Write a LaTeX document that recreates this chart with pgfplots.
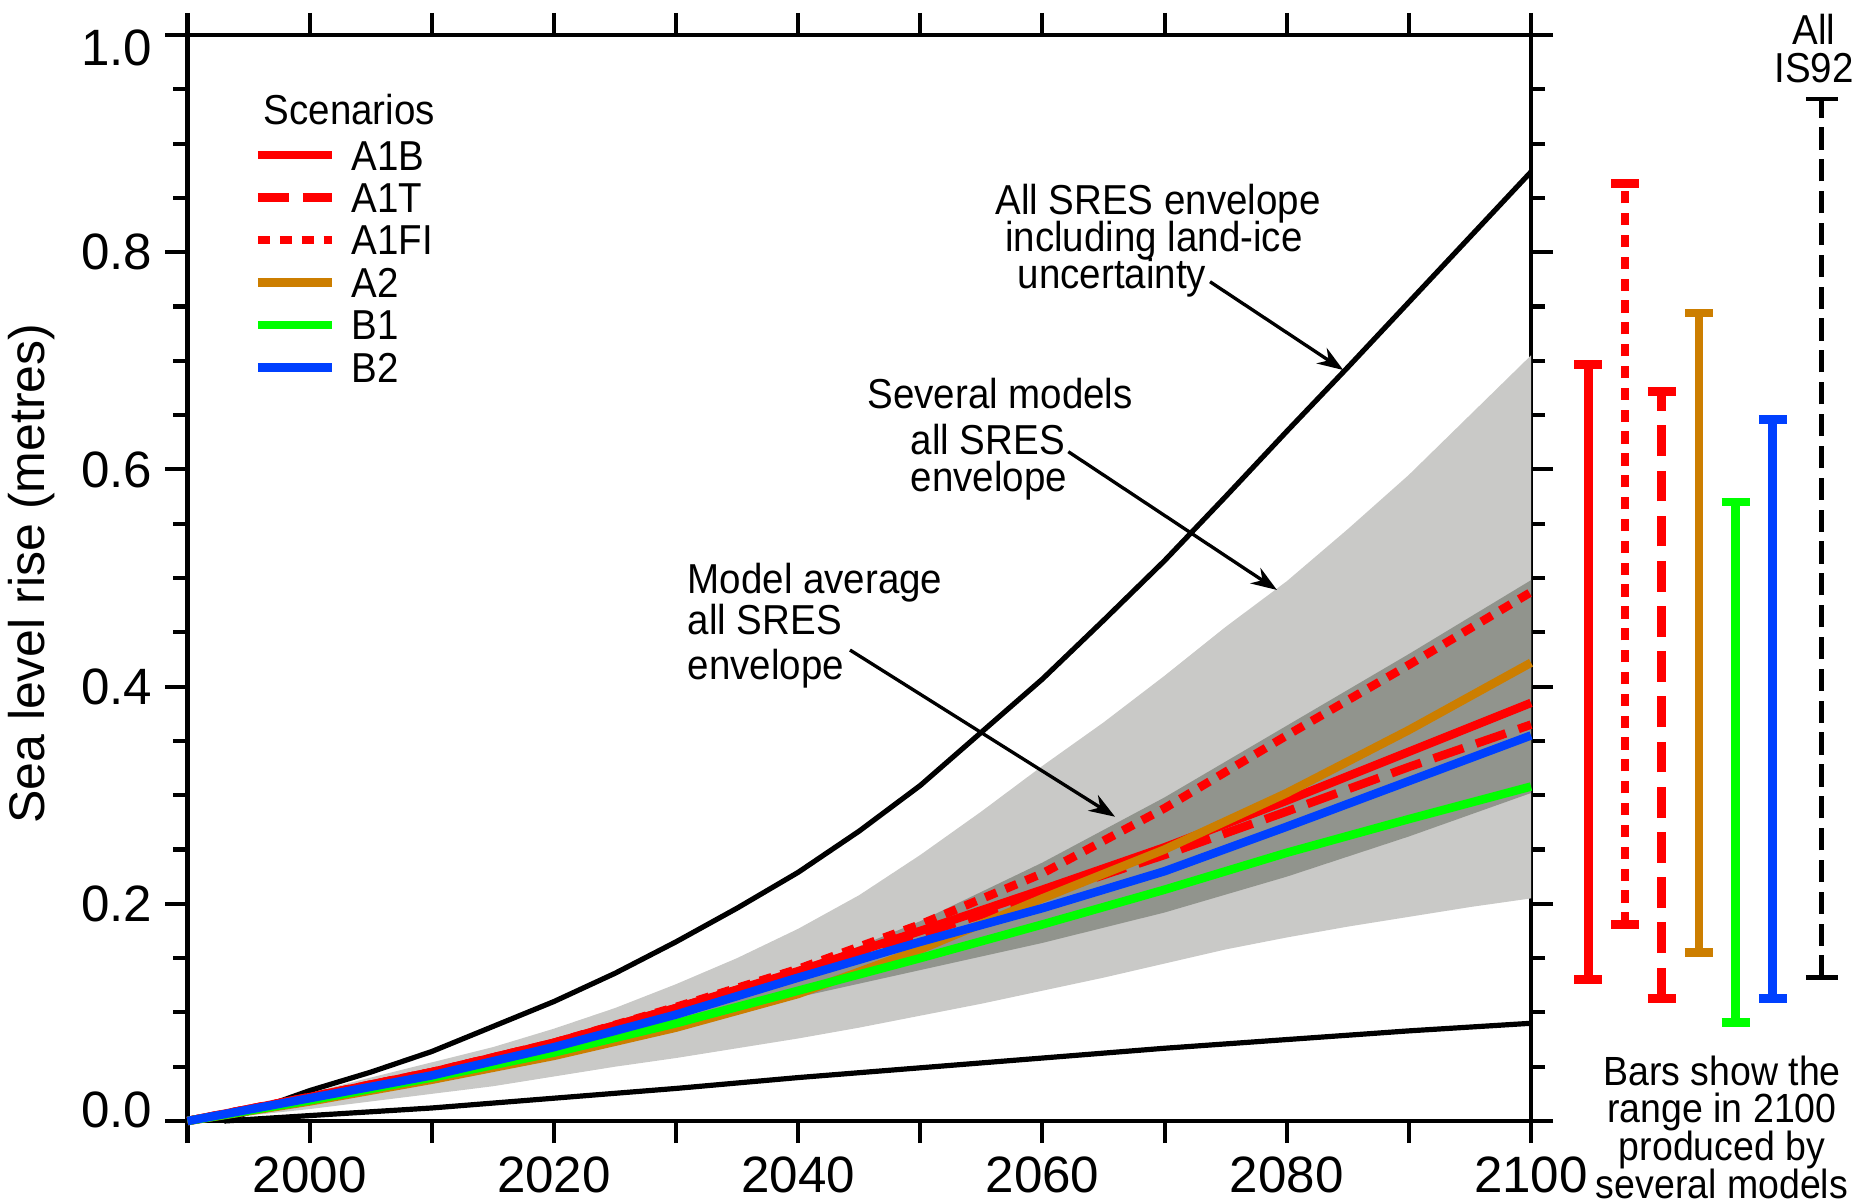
\documentclass[border=0pt]{standalone}
\usepackage{fontspec}
\setmainfont{Liberation Sans}
\newfontfamily\cond[FakeStretch=0.92]{Liberation Sans}
\usepackage{pgfplots}
\pgfplotsset{compat=1.18}
\usetikzlibrary{arrows.meta}

\definecolor{sred}{RGB}{255,0,0}
\definecolor{sorange}{RGB}{204,126,0}
\definecolor{sgreen}{RGB}{0,255,0}
\definecolor{sblue}{RGB}{0,64,255}
\definecolor{lgrey}{RGB}{201,201,199}
\definecolor{dgrey}{RGB}{145,148,141}
\newcommand\ann{\cond\fontsize{11.3}{11.3}\selectfont}
\newcommand\annsmall{\cond\fontsize{11}{11}\selectfont}

\tikzset{
  a1b/.style={sred, line width=2.3pt},
  a1t/.style={sred, line width=2.3pt, dash pattern=on 8.5pt off 3.6pt},
  a1fi/.style={sred, line width=2.3pt, dash pattern=on 3.3pt off 2.6pt},
  a2/.style={sorange, line width=2.3pt},
  b1/.style={sgreen, line width=2.3pt},
  b2/.style={sblue, line width=2.3pt},
  arr/.style={-{Stealth[length=7pt,width=5pt]}, line width=0.9pt, black},
}

\begin{document}
\begin{tikzpicture}
\begin{axis}[
  name=ax,
  scale only axis, width=362.745pt, height=293.22pt,
  xmin=1990, xmax=2100, ymin=0, ymax=1,
  clip=false,
  axis line style={line width=1.2pt},
  tick style={line width=1.1pt, black},
  tick align=outside,
  xtick pos=both, ytick pos=both,
  major tick length=6pt, minor tick length=3.8pt,
  xtick={1990,2000,2010,2020,2030,2040,2050,2060,2070,2080,2090,2100},
  xticklabels={,2000,,2020,,2040,,2060,,2080,,2100},
  ytick={0,0.2,0.4,0.6,0.8,1},
  yticklabels={\raisebox{3pt}[\height][\depth]{0.0},0.2,0.4,0.6,0.8,\raisebox{-3.5pt}[\height][\depth]{1.0}},
  minor ytick={0.05,0.1,0.15,0.25,0.3,0.35,0.45,0.5,0.55,0.65,0.7,0.75,0.85,0.9,0.95},
  ticklabel style={font=\fontsize{13.8}{13.8}\selectfont},
  /pgf/number format/assume math mode=true,
  ylabel={Sea level rise (metres)},
  ylabel style={at={(axis description cs:-0.1157,0.504)}, anchor=center, font=\fontsize{13.5}{13.5}\selectfont},
  legend cell align=left,
  legend image code/.code={\draw[#1] (0pt,0pt) -- (19.9pt,0pt);},
  legend style={at={(axis cs:1995.42,0.9033)}, anchor=north west, draw=none, fill=none,
    inner sep=0pt, outer sep=0pt, font=\ann, row sep=3.36pt,
    nodes={inner sep=0pt, text height=8.1pt, text depth=0pt},
    /tikz/every odd column/.append style={column sep=4.3pt}},
]
% light envelope: several models, all SRES
\addplot[fill=lgrey, draw=none, forget plot] coordinates {
 (1990,0) (1995,0.012) (2000,0.026) (2005,0.04) (2010,0.054) (2015,0.068) (2020,0.085)
 (2025,0.104) (2030,0.126) (2035,0.15) (2040,0.177) (2045,0.208) (2050,0.245) (2055,0.285)
 (2060,0.327) (2065,0.367) (2070,0.41) (2075,0.455) (2080,0.497) (2085,0.545) (2090,0.595)
 (2095,0.65) (2100,0.705)
 (2100,0.205) (2095,0.197) (2090,0.188) (2085,0.179) (2080,0.169) (2075,0.158) (2070,0.145)
 (2065,0.132) (2060,0.12) (2055,0.108) (2050,0.097) (2045,0.086) (2040,0.076) (2035,0.067)
 (2030,0.058) (2025,0.05) (2020,0.041) (2015,0.032) (2010,0.025) (2005,0.018) (2000,0.011)
 (1995,0.005) (1990,0)} -- cycle;
% dark envelope: model average, all SRES
\addplot[fill=dgrey, draw=none, forget plot] coordinates {
 (1990,0) (2000,0.022) (2010,0.045) (2020,0.068) (2030,0.098) (2040,0.138) (2050,0.184)
 (2060,0.238) (2070,0.298) (2080,0.364) (2090,0.43) (2100,0.498)
 (2100,0.302) (2090,0.262) (2080,0.225) (2070,0.192) (2060,0.164) (2050,0.139) (2040,0.114)
 (2030,0.085) (2020,0.058) (2010,0.036) (2000,0.016) (1990,0)} -- cycle;
% all SRES envelope including land-ice uncertainty
\addplot[black, line width=1.4pt, line join=round, forget plot] coordinates {
 (1993,0) (2000,0.028) (2005,0.045) (2010,0.064) (2015,0.087) (2020,0.11) (2025,0.136)
 (2030,0.165) (2035,0.196) (2040,0.229) (2045,0.267) (2050,0.309) (2055,0.358) (2060,0.407)
 (2065,0.461) (2070,0.516) (2075,0.575) (2080,0.635) (2085,0.694) (2090,0.754) (2095,0.814)
 (2100,0.874)};
\addplot[black, line width=1.4pt, line join=round, forget plot] coordinates {
 (1993,0) (2000,0.005) (2010,0.012) (2020,0.021) (2030,0.03) (2040,0.04) (2050,0.049)
 (2060,0.058) (2070,0.067) (2080,0.075) (2090,0.083) (2100,0.09)};
% scenarios
\addplot[a1fi, forget plot] coordinates {
 (1990,0) (2000,0.022) (2010,0.045) (2020,0.072) (2030,0.105) (2040,0.14) (2050,0.181)
 (2060,0.228) (2070,0.288) (2080,0.355) (2090,0.42) (2100,0.487)};
\addplot[a1t, forget plot] coordinates {
 (1990,0) (2000,0.022) (2010,0.045) (2020,0.072) (2030,0.104) (2040,0.137) (2050,0.172)
 (2060,0.208) (2070,0.245) (2080,0.285) (2090,0.326) (2100,0.365)};
\addplot[a1b, forget plot] coordinates {
 (1990,0) (2000,0.022) (2010,0.045) (2020,0.072) (2030,0.104) (2040,0.138) (2050,0.175)
 (2060,0.213) (2070,0.252) (2080,0.295) (2090,0.34) (2100,0.385)};
\addplot[a2, forget plot] coordinates {
 (1990,0) (2000,0.018) (2010,0.038) (2020,0.06) (2030,0.086) (2040,0.117) (2050,0.158)
 (2060,0.205) (2070,0.25) (2080,0.302) (2090,0.36) (2100,0.422)};
\addplot[b1, forget plot] coordinates {
 (1990,0) (2000,0.019) (2010,0.04) (2020,0.063) (2030,0.09) (2040,0.12) (2050,0.15)
 (2060,0.181) (2070,0.213) (2080,0.247) (2090,0.278) (2100,0.308)};
\addplot[b2, forget plot] coordinates {
 (1990,0) (2000,0.021) (2010,0.042) (2020,0.068) (2030,0.098) (2040,0.132) (2050,0.165)
 (2060,0.196) (2070,0.23) (2080,0.271) (2090,0.313) (2100,0.355)};

% ranges in 2100
\addplot[sred, line width=2.4pt, forget plot] coordinates {(2104.7,0.130) (2104.7,0.697)};
\addplot[sred, line width=2.4pt, forget plot] coordinates {(2103.55,0.697) (2105.85,0.697)};
\addplot[sred, line width=2.4pt, forget plot] coordinates {(2103.55,0.130) (2105.85,0.130)};

\addplot[sred, line width=2.4pt, dash pattern=on 3.3pt off 2.6pt, forget plot] coordinates {(2107.7,0.181) (2107.7,0.863)};
\addplot[sred, line width=2.4pt, forget plot] coordinates {(2106.55,0.863) (2108.85,0.863)};
\addplot[sred, line width=2.4pt, forget plot] coordinates {(2106.55,0.181) (2108.85,0.181)};

\addplot[sred, line width=2.4pt, dash pattern=on 8.3pt off 3.9pt, forget plot] coordinates {(2110.7,0.113) (2110.7,0.672)};
\addplot[sred, line width=2.4pt, forget plot] coordinates {(2109.55,0.672) (2111.85,0.672)};
\addplot[sred, line width=2.4pt, forget plot] coordinates {(2109.55,0.113) (2111.85,0.113)};

\addplot[sorange, line width=2.4pt, forget plot] coordinates {(2113.75,0.155) (2113.75,0.744)};
\addplot[sorange, line width=2.4pt, forget plot] coordinates {(2112.6,0.744) (2114.9,0.744)};
\addplot[sorange, line width=2.4pt, forget plot] coordinates {(2112.6,0.155) (2114.9,0.155)};

\addplot[sgreen, line width=2.4pt, forget plot] coordinates {(2116.75,0.091) (2116.75,0.570)};
\addplot[sgreen, line width=2.4pt, forget plot] coordinates {(2115.6,0.570) (2117.9,0.570)};
\addplot[sgreen, line width=2.4pt, forget plot] coordinates {(2115.6,0.091) (2117.9,0.091)};

\addplot[sblue, line width=2.4pt, forget plot] coordinates {(2119.8,0.113) (2119.8,0.646)};
\addplot[sblue, line width=2.4pt, forget plot] coordinates {(2118.65,0.646) (2120.95,0.646)};
\addplot[sblue, line width=2.4pt, forget plot] coordinates {(2118.65,0.113) (2120.95,0.113)};

\addplot[black, line width=1.35pt, dash pattern=on 6pt off 2.6pt, forget plot] coordinates {(2123.8,0.132) (2123.8,0.941)};
\addplot[black, line width=1.25pt, forget plot] coordinates {(2122.5,0.941) (2125.1,0.941)};
\addplot[black, line width=1.25pt, forget plot] coordinates {(2122.5,0.132) (2125.1,0.132)};

% legend
\addlegendimage{a1b}\addlegendentry{A1B}
\addlegendimage{a1t}\addlegendentry{A1T}
\addlegendimage{a1fi}\addlegendentry{A1FI}
\addlegendimage{a2}\addlegendentry{A2}
\addlegendimage{b1}\addlegendentry{B1}
\addlegendimage{b2}\addlegendentry{B2}

% annotations
\node[anchor=base west, font=\ann, inner sep=0pt] at (axis cs:1996.18,0.9180) {Scenarios};

\node[anchor=base, font=\ann, inner sep=0pt] at (axis cs:2069.46,0.8343) {All SRES envelope};
\node[anchor=base, font=\ann, inner sep=0pt] at (axis cs:2069.13,0.8005) {including land-ice};
\node[anchor=base, font=\ann, inner sep=0pt] at (axis cs:2065.69,0.7668) {uncertainty};
\draw[arr] (axis cs:2073.72,0.7728) -- (axis cs:2084.63,0.6915);

\node[anchor=base west, font=\ann, inner sep=0pt] at (axis cs:2045.61,0.6563) {Several models};
\node[anchor=base west, font=\ann, inner sep=0pt] at (axis cs:2049.16,0.6133) {all SRES};
\node[anchor=base west, font=\ann, inner sep=0pt] at (axis cs:2049.16,0.5795) {envelope};
\draw[arr] (axis cs:2062.12,0.6163) -- (axis cs:2079.20,0.4890);

\node[anchor=base west, font=\ann, inner sep=0pt] at (axis cs:2030.90,0.4859) {Model average};
\node[anchor=base west, font=\ann, inner sep=0pt] at (axis cs:2030.90,0.4484) {all SRES};
\node[anchor=base west, font=\ann, inner sep=0pt] at (axis cs:2030.90,0.4061) {envelope};
\draw[arr] (axis cs:2044.24,0.4337) -- (axis cs:2065.94,0.2802);

\node[anchor=base, font=\ann, inner sep=0pt] at (axis cs:2123.17,0.9917) {All};
\node[anchor=base, font=\ann, inner sep=0pt] at (axis cs:2123.17,0.9564) {IS92};

\node[anchor=base, font=\annsmall, inner sep=0pt] at (axis cs:2115.64,0.0331) {Bars show the};
\node[anchor=base, font=\annsmall, inner sep=0pt] at (axis cs:2115.64,-0.0018) {range in 2100};
\node[anchor=base, font=\annsmall, inner sep=0pt] at (axis cs:2115.64,-0.0368) {produced by};
\node[anchor=base, font=\annsmall, inner sep=0pt] at (axis cs:2115.64,-0.0718) {several models};
\end{axis}
\pgfresetboundingbox
\path[use as bounding box] ([shift={(-50.625pt,-22.14pt)}]ax.south west) rectangle ([shift={(87.21pt,9.45pt)}]ax.north east);
\end{tikzpicture}
\end{document}
